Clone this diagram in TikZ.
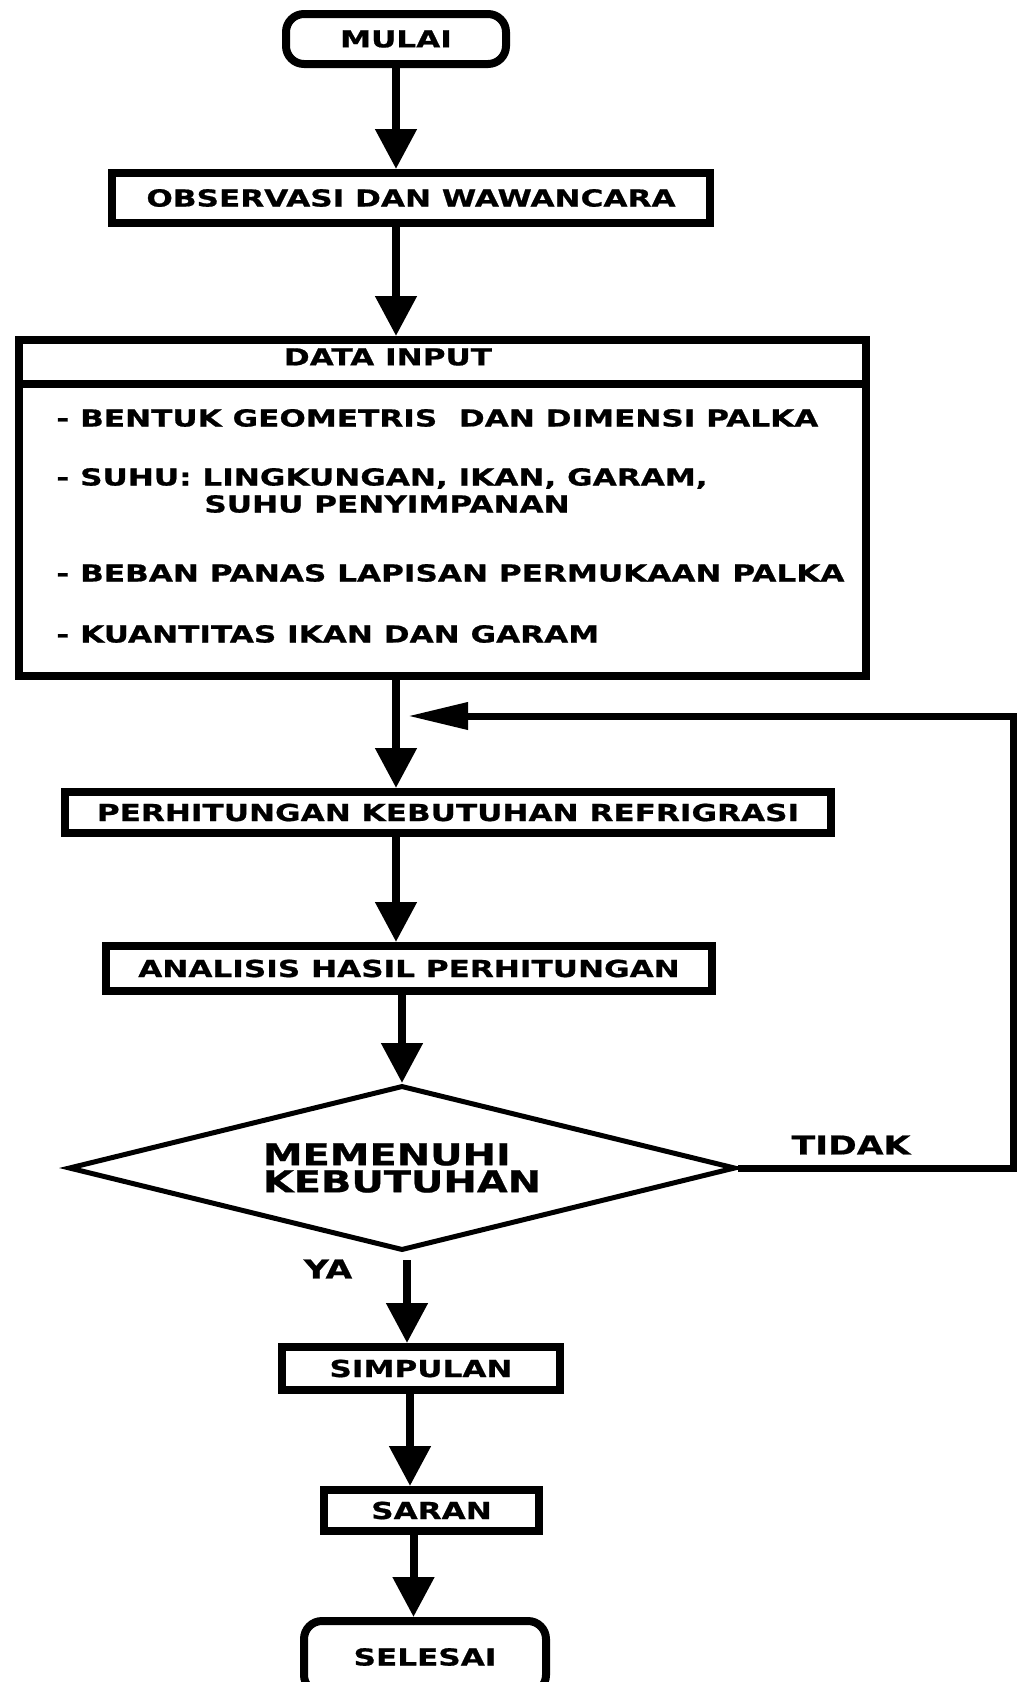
\documentclass[tikz,border=0pt]{standalone}
\usepackage{fontspec}
\setmainfont{DejaVu Sans}[FakeStretch=1.33, BoldFeatures={FakeBold=0.8}]
\usetikzlibrary{arrows.meta, shapes.geometric}

\newcommand{\boxfont}{\bfseries\fontsize{11.7}{14}\selectfont}

\tikzset{
  terminal/.style={rectangle, rounded corners=9pt, draw=black, line width=4pt, inner sep=0, font=\boxfont},
  process/.style={rectangle, draw=black, line width=4pt, inner sep=0, font=\boxfont},
  item/.style={anchor=west, inner sep=0, text height=8.5pt, text depth=0pt, font=\boxfont},
  decision/.style={diamond, aspect=3.9, draw=black, line width=2.5pt, inner sep=0, align=left, font=\bfseries\fontsize{15}{13.5}\selectfont},
  lbl/.style={inner sep=0, font=\bfseries\fontsize{13}{15}\selectfont},
  flow/.style={-{Triangle[width=20pt,length=20pt]}, line width=4pt},
  loopback/.style={-{Triangle[width=13pt,length=30pt]}, line width=3.5pt},
}

\begin{document}
\begin{tikzpicture}[x=0.5pt, y=-0.5pt]
  \useasboundingbox (0,0) rectangle (1021,1682);

  \node[terminal, minimum width=110pt, minimum height=25pt] (mulai) at (396, 39) {MULAI};
  \node[process, minimum width=299pt, minimum height=25pt] (obs) at (411, 198) {OBSERVASI DAN WAWANCARA};

  % data input: header and list
  \node[process, minimum width=423.5pt, minimum height=22pt] (hdr) at (442.5, 362) {};
  \node[process, minimum width=423.5pt, minimum height=146pt] (body) at (442.5, 530) {};
  \node[inner sep=0, font=\boxfont] (hdrtext) at (388, 357) {DATA INPUT};
  \node[item] (item1) at (56, 418) {- BENTUK GEOMETRIS\ \ DAN DIMENSI PALKA};
  \node[item] (item2) at (56, 477) {- SUHU: LINGKUNGAN, IKAN, GARAM,};
  \node[item] (item2b) at (204, 504) {SUHU PENYIMPANAN};
  \node[item] (item3) at (56, 573) {- BEBAN PANAS LAPISAN PERMUKAAN PALKA};
  \node[item] (item4) at (56, 634) {- KUANTITAS IKAN DAN GARAM};

  \node[process, minimum width=383pt, minimum height=20.5pt] (perh) at (448, 812.5) {PERHITUNGAN KEBUTUHAN REFRIGRASI};
  \node[process, minimum width=303pt, minimum height=22.5pt] (anal) at (409, 968.5) {ANALISIS HASIL PERHITUNGAN};
  \node[decision, minimum width=333.5pt, minimum height=82.5pt] (dec) at (402, 1168) {MEMENUHI\\KEBUTUHAN};
  \node[process, minimum width=139pt, minimum height=21.5pt] (simp) at (421, 1368.5) {SIMPULAN};
  \node[process, minimum width=107.5pt, minimum height=20.5pt] (saran) at (431.5, 1510.5) {SARAN};
  \node[terminal, minimum width=121pt, minimum height=36pt] (selesai) at (425, 1657) {SELESAI};

  \node[lbl] (tidak) at (851, 1145) {TIDAK};
  \node[lbl] (ya) at (328, 1269) {YA};

  \draw[flow] (mulai.south) -- (mulai.south |- obs.north);
  \draw[flow] (mulai.south |- obs.south) -- (mulai.south |- hdr.north);
  \draw[flow] (mulai.south |- body.south) -- (mulai.south |- perh.north);
  \draw[flow] (mulai.south |- perh.south) -- (mulai.south |- anal.north);
  \draw[flow] (dec.north |- anal.south) -- (dec.north);
  \draw[flow] ([xshift=2.5pt, yshift=-3.5pt]dec.south) -- ([xshift=2.5pt]dec.south |- simp.north);
  \draw[flow] ([xshift=-5.5pt]simp.south) -- ([xshift=-5.5pt]simp.south |- saran.north);
  \draw[flow] ([xshift=-9pt]saran.south) -- ([xshift=-9pt]saran.south |- selesai.north);

  % loop back when not met
  \coordinate (corner) at (1013, 716);
  \coordinate (back) at (408, 716);
  \draw[loopback] (dec.east) -| (corner) -- (back);
\end{tikzpicture}
\end{document}
